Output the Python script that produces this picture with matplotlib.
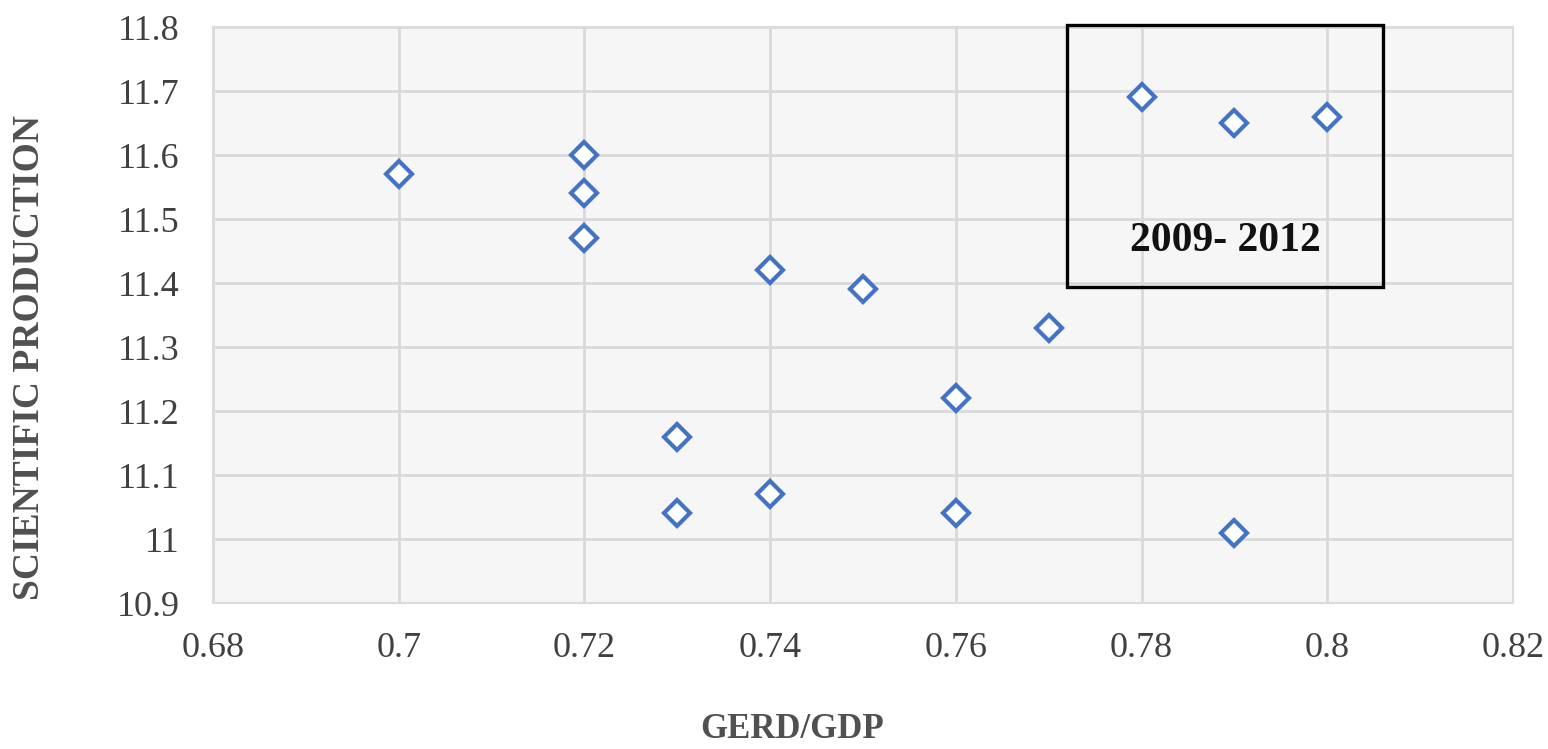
import numpy as np
import matplotlib.pyplot as plt
from matplotlib.patches import Rectangle

plt.rcParams['font.family'] = ['Liberation Serif', 'DejaVu Serif']
plt.rcParams['hatch.color'] = '#e2e2e2'
plt.rcParams['hatch.linewidth'] = 0.6

# GERD/GDP vs scientific production (log)
gerd = [0.70, 0.72, 0.72, 0.72, 0.73, 0.73, 0.74, 0.74,
        0.75, 0.76, 0.76, 0.77, 0.78, 0.79, 0.80, 0.79]
prod = [11.57, 11.60, 11.54, 11.47, 11.16, 11.04, 11.42, 11.07,
        11.39, 11.22, 11.04, 11.33, 11.69, 11.65, 11.66, 11.01]

x_ticks = [0.68, 0.70, 0.72, 0.74, 0.76, 0.78, 0.80, 0.82]
x_labels = ['0.68', '0.7', '0.72', '0.74', '0.76', '0.78', '0.8', '0.82']
y_ticks = [10.9, 11.0, 11.1, 11.2, 11.3, 11.4, 11.5, 11.6, 11.7, 11.8]
y_labels = ['10.9', '11', '11.1', '11.2', '11.3', '11.4', '11.5', '11.6', '11.7', '11.8']

# highlighted period box (data coords)
box_x = (0.772, 0.806)
box_y = (11.394, 11.803)
box_text = '2009- 2012'

fig = plt.figure(figsize=(15.48, 7.49), dpi=100)
ax = fig.add_axes([213 / 1548, 1 - 603 / 749, 1300 / 1548, 576 / 749])

ax.patch.set_facecolor('#f6f6f6')
ax.patch.set_hatch('//////')

ax.set_xlim(0.68, 0.82)
ax.set_ylim(10.9, 11.8)
ax.set_xticks(x_ticks)
ax.set_xticklabels(x_labels)
ax.set_yticks(y_ticks)
ax.set_yticklabels(y_labels)
ax.tick_params(length=0, labelsize=26, labelcolor='#404040')
ax.tick_params(axis='x', pad=21)
ax.tick_params(axis='y', pad=24)

ax.grid(True, color='#d9d9d9', linewidth=2.0)
ax.set_axisbelow(True)
for s in ax.spines.values():
    s.set_color('#dcdcdc')
    s.set_linewidth(1.5)

ax.plot(gerd, prod, linestyle='none', marker='D', markersize=13.5,
        markerfacecolor='white', markeredgecolor='#4472c4',
        markeredgewidth=3.0, zorder=3)

rect = Rectangle((box_x[0], box_y[0]), box_x[1] - box_x[0], box_y[1] - box_y[0],
                 fill=False, edgecolor='black', linewidth=2.4, zorder=4,
                 clip_on=False)
ax.add_patch(rect)
ax.text((box_x[0] + box_x[1]) / 2, 11.466, box_text, ha='center', va='center',
        fontsize=30, fontweight='bold', color='#111111', zorder=5)

fig.text(30 / 1548, 1 - 358 / 749, 'SCIENTIFIC PRODUCTION', rotation=90,
         ha='center', va='center', fontsize=27, fontweight='bold', color='#505050')
fig.text(792 / 1548, 1 - 730 / 749, 'GERD/GDP', ha='center', va='center',
         fontsize=25, fontweight='bold', color='#505050')

fig.savefig('out.png', dpi=100)
